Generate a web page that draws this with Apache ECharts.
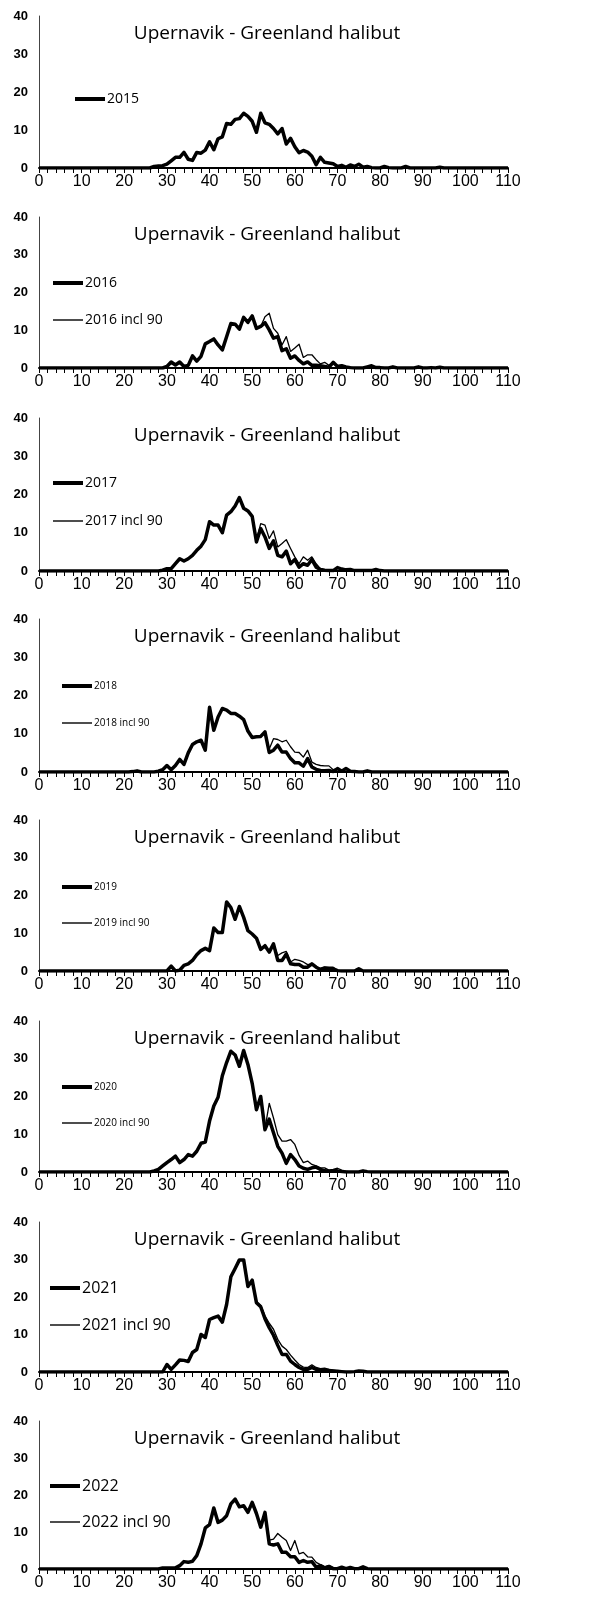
<!DOCTYPE html>
<html>
<head>
<meta charset="utf-8">
<title>Upernavik - Greenland halibut</title>
<script src="https://cdn.jsdelivr.net/npm/echarts@6/dist/echarts.min.js"></script>
<style>
  html, body { margin: 0; padding: 0; background: #fff; }
  #chart { width: 604px; height: 1604px; }
</style>
</head>
<body>
<div id="chart"></div>
<script>
// length classes (cm)
var lengths = [
  0, 1, 2, 3, 4, 5, 6, 7, 8, 9,
  10, 11, 12, 13, 14, 15, 16, 17, 18, 19,
  20, 21, 22, 23, 24, 25, 26, 27, 28, 29,
  30, 31, 32, 33, 34, 35, 36, 37, 38, 39,
  40, 41, 42, 43, 44, 45, 46, 47, 48, 49,
  50, 51, 52, 53, 54, 55, 56, 57, 58, 59,
  60, 61, 62, 63, 64, 65, 66, 67, 68, 69,
  70, 71, 72, 73, 74, 75, 76, 77, 78, 79,
  80, 81, 82, 83, 84, 85, 86, 87, 88, 89,
  90, 91, 92, 93, 94, 95, 96, 97, 98, 99,
  100, 101, 102, 103, 104, 105, 106, 107, 108, 109, 110
];

var yTicks = [0, 10, 20, 30, 40];
var xTicks = [0, 10, 20, 30, 40, 50, 60, 70, 80, 90, 100, 110];

var y2015 = [
  0, 0, 0, 0, 0, 0, 0, 0, 0, 0,
  0, 0, 0, 0, 0, 0, 0, 0, 0, 0,
  0, 0, 0, 0, 0, 0, 0, 0.4, 0.5, 0.6,
  1.0, 1.9, 2.8, 2.8, 4.1, 2.3, 2.0, 4.1, 3.9, 4.7,
  6.9, 4.8, 7.7, 8.2, 11.7, 11.5, 12.8, 13.0, 14.4, 13.6,
  12.3, 9.4, 14.4, 11.9, 11.5, 10.4, 9.0, 10.4, 6.3, 7.8,
  5.6, 4.0, 4.6, 4.2, 3.1, 0.9, 2.8, 1.5, 1.3, 1.1,
  0.4, 0.7, 0.2, 0.8, 0.4, 1.0, 0.2, 0.4, 0.1, 0,
  0, 0.4, 0.1, 0, 0, 0, 0.4, 0, 0, 0,
  0, 0, 0, 0, 0.2, 0, 0, 0, 0, 0,
  0, 0, 0, 0, 0, 0, 0, 0, 0, 0, 0
];

var y2016 = [
  0, 0, 0, 0, 0, 0, 0, 0, 0, 0,
  0, 0, 0, 0, 0, 0, 0, 0, 0, 0,
  0, 0, 0, 0, 0, 0, 0, 0, 0, 0,
  0.4, 1.6, 0.8, 1.6, 0.4, 0.7, 3.2, 1.8, 3.1, 6.4,
  7.0, 7.7, 6.1, 4.8, 8.3, 11.8, 11.6, 10.3, 13.4, 12.1,
  13.8, 10.5, 11.0, 12.0, 10.1, 7.9, 8.3, 4.6, 5.1, 2.6,
  3.2, 2.0, 1.1, 1.6, 0.7, 0.7, 0.6, 0.4, 0.2, 1.5,
  0.4, 0.6, 0.3, 0.1, 0, 0, 0, 0.3, 0.6, 0.1,
  0.1, 0, 0, 0.3, 0, 0, 0, 0, 0, 0.3,
  0, 0, 0.1, 0, 0.2, 0, 0, 0, 0, 0,
  0, 0, 0, 0, 0, 0, 0, 0, 0, 0, 0
];
var y2016incl = [
  0, 0, 0, 0, 0, 0, 0, 0, 0, 0,
  0, 0, 0, 0, 0, 0, 0, 0, 0, 0,
  0, 0, 0, 0, 0, 0, 0, 0, 0, 0,
  0.4, 1.6, 0.8, 1.6, 0.4, 0.7, 3.2, 1.8, 3.1, 6.4,
  7.0, 7.7, 6.1, 4.8, 8.3, 11.8, 11.6, 10.3, 13.4, 12.1,
  13.8, 10.5, 11.0, 13.6, 14.5, 10.5, 9.2, 6.1, 8.3, 4.4,
  5.3, 6.3, 2.8, 3.5, 3.5, 2.2, 1.1, 1.5, 0.7, 1.5,
  0.6, 0.7, 0.4, 0.2, 0, 0, 0, 0.3, 0.6, 0.1,
  0.1, 0, 0, 0.3, 0, 0, 0, 0, 0, 0.3,
  0, 0, 0.1, 0, 0.2, 0, 0, 0, 0, 0,
  0, 0, 0, 0, 0, 0, 0, 0, 0, 0, 0
];

var y2017 = [
  0, 0, 0, 0, 0, 0, 0, 0, 0, 0,
  0, 0, 0, 0, 0, 0, 0, 0, 0, 0,
  0, 0, 0, 0, 0, 0, 0, 0, 0, 0.2,
  0.6, 0.6, 1.9, 3.2, 2.6, 3.2, 4.1, 5.4, 6.5, 8.2,
  12.9, 12.0, 12.0, 10.0, 14.6, 15.5, 17.0, 19.2, 16.4, 15.7,
  14.3, 7.6, 11.1, 8.9, 5.9, 7.9, 4.1, 3.7, 5.2, 1.9,
  3.0, 1.0, 1.9, 1.5, 3.0, 1.0, 0.4, 0.2, 0.1, 0.1,
  0.9, 0.5, 0.3, 0.4, 0.1, 0.1, 0.1, 0.1, 0.1, 0.4,
  0.1, 0, 0, 0, 0, 0, 0, 0, 0, 0,
  0, 0, 0, 0, 0, 0, 0, 0, 0, 0,
  0, 0, 0, 0, 0, 0, 0, 0, 0, 0, 0
];
var y2017incl = [
  0, 0, 0, 0, 0, 0, 0, 0, 0, 0,
  0, 0, 0, 0, 0, 0, 0, 0, 0, 0,
  0, 0, 0, 0, 0, 0, 0, 0, 0, 0.2,
  0.6, 0.6, 1.9, 3.2, 2.6, 3.2, 4.1, 5.4, 6.5, 8.2,
  12.9, 12.0, 12.0, 10.0, 14.6, 15.5, 17.0, 19.2, 16.4, 15.7,
  14.3, 8.2, 12.4, 12.0, 8.5, 10.5, 6.3, 7.2, 8.2, 5.9,
  3.7, 1.9, 3.7, 2.8, 3.7, 1.9, 0.6, 0.3, 0.2, 0.1,
  0.9, 0.5, 0.3, 0.4, 0.1, 0.1, 0.1, 0.1, 0.1, 0.4,
  0.1, 0, 0, 0, 0, 0, 0, 0, 0, 0,
  0, 0, 0, 0, 0, 0, 0, 0, 0, 0,
  0, 0, 0, 0, 0, 0, 0, 0, 0, 0, 0
];

var y2018 = [
  0, 0, 0, 0, 0, 0, 0, 0, 0, 0,
  0, 0, 0, 0, 0, 0, 0, 0, 0, 0,
  0, 0, 0.1, 0.3, 0, 0, 0, 0, 0.2, 0.6,
  1.7, 0.6, 1.7, 3.3, 2.0, 5.0, 7.2, 7.9, 8.3, 5.7,
  16.9, 10.9, 14.4, 16.6, 16.2, 15.3, 15.3, 14.6, 13.7, 10.7,
  9.0, 9.2, 9.3, 10.5, 5.1, 5.7, 7.0, 5.2, 5.2, 3.5,
  2.4, 2.4, 1.5, 3.5, 1.3, 0.7, 0.4, 0.3, 0.4, 0.1,
  0.9, 0.2, 0.9, 0.2, 0.1, 0, 0, 0.3, 0, 0,
  0, 0, 0, 0, 0, 0, 0, 0, 0, 0,
  0, 0, 0, 0, 0, 0, 0, 0, 0, 0,
  0, 0, 0, 0, 0, 0, 0, 0, 0, 0, 0
];
var y2018incl = [
  0, 0, 0, 0, 0, 0, 0, 0, 0, 0,
  0, 0, 0, 0, 0, 0, 0, 0, 0, 0,
  0, 0, 0.1, 0.3, 0, 0, 0, 0, 0.2, 0.6,
  1.7, 0.6, 1.7, 3.3, 2.0, 5.0, 7.2, 7.9, 8.3, 5.7,
  16.9, 10.9, 14.4, 16.6, 16.2, 15.3, 15.3, 14.6, 13.7, 10.7,
  9.0, 9.2, 9.3, 10.5, 6.0, 8.7, 8.5, 7.9, 8.3, 6.6,
  5.2, 5.1, 3.9, 5.7, 2.6, 2.0, 1.7, 1.6, 1.6, 0.6,
  0.9, 0.3, 0.9, 0.2, 0.1, 0, 0, 0.3, 0, 0,
  0, 0, 0, 0, 0, 0, 0, 0, 0, 0,
  0, 0, 0, 0, 0, 0, 0, 0, 0, 0,
  0, 0, 0, 0, 0, 0, 0, 0, 0, 0, 0
];

var y2019 = [
  0, 0, 0, 0, 0, 0, 0, 0, 0, 0,
  0, 0, 0, 0, 0, 0, 0, 0, 0, 0,
  0, 0, 0, 0, 0, 0, 0, 0, 0, 0,
  0, 1.3, 0, 0.2, 1.5, 1.9, 2.8, 4.3, 5.4, 6.0,
  5.4, 11.4, 10.2, 10.2, 18.3, 16.8, 13.7, 17.1, 14.2, 10.7,
  9.8, 8.7, 5.7, 6.7, 5.0, 7.2, 2.8, 2.8, 4.5, 1.9,
  1.7, 1.7, 1.0, 1.0, 1.9, 1.0, 0.4, 0.8, 0.6, 0.6,
  0.1, 0, 0, 0, 0, 0.6, 0, 0, 0, 0,
  0, 0, 0, 0, 0, 0, 0, 0, 0, 0,
  0, 0, 0, 0, 0, 0, 0, 0, 0, 0,
  0, 0, 0, 0, 0, 0, 0, 0, 0, 0, 0
];
var y2019incl = [
  0, 0, 0, 0, 0, 0, 0, 0, 0, 0,
  0, 0, 0, 0, 0, 0, 0, 0, 0, 0,
  0, 0, 0, 0, 0, 0, 0, 0, 0, 0,
  0, 1.3, 0, 0.2, 1.5, 1.9, 2.8, 4.3, 5.4, 6.0,
  5.4, 11.4, 10.2, 10.2, 18.3, 16.8, 13.7, 17.1, 14.2, 10.7,
  9.8, 8.7, 5.7, 6.7, 5.0, 7.2, 4.1, 4.8, 5.2, 2.4,
  3.1, 2.8, 2.4, 1.7, 1.9, 1.0, 0.6, 1.0, 1.0, 1.0,
  0.2, 0, 0, 0, 0, 0.6, 0, 0, 0, 0,
  0, 0, 0, 0, 0, 0, 0, 0, 0, 0,
  0, 0, 0, 0, 0, 0, 0, 0, 0, 0,
  0, 0, 0, 0, 0, 0, 0, 0, 0, 0, 0
];

var y2020 = [
  0, 0, 0, 0, 0, 0, 0, 0, 0, 0,
  0, 0, 0, 0, 0, 0, 0, 0, 0, 0,
  0, 0, 0, 0, 0, 0, 0, 0.3, 0.7, 1.6,
  2.5, 3.3, 4.2, 2.5, 3.3, 4.6, 4.2, 5.5, 7.6, 7.9,
  13.5, 17.5, 19.8, 25.5, 29.0, 32.0, 31.0, 28.0, 32.2, 28.5,
  23.5, 16.5, 20.0, 11.2, 14.0, 10.4, 6.8, 5.0, 2.3, 4.6,
  3.3, 1.6, 1.0, 0.7, 1.1, 1.3, 0.7, 0.3, 0.2, 0.3,
  0.3, 0.1, 0, 0, 0, 0, 0.3, 0.1, 0, 0,
  0, 0, 0, 0, 0, 0, 0, 0, 0, 0,
  0, 0, 0, 0, 0, 0, 0, 0, 0, 0,
  0, 0, 0, 0, 0, 0, 0, 0, 0, 0, 0
];
var y2020incl = [
  0, 0, 0, 0, 0, 0, 0, 0, 0, 0,
  0, 0, 0, 0, 0, 0, 0, 0, 0, 0,
  0, 0, 0, 0, 0, 0, 0, 0.3, 0.7, 1.6,
  2.5, 3.3, 4.2, 2.5, 3.3, 4.6, 4.2, 5.5, 7.6, 7.9,
  13.5, 17.5, 19.8, 25.5, 29.0, 32.0, 31.0, 28.0, 32.2, 28.5,
  23.5, 16.5, 20.0, 11.5, 18.2, 14.3, 9.9, 8.2, 8.2, 8.6,
  7.3, 4.4, 2.5, 2.9, 2.0, 1.6, 1.1, 1.1, 0.5, 0.7,
  1.0, 0.5, 0.2, 0, 0, 0, 0.3, 0.1, 0, 0,
  0, 0, 0, 0, 0, 0, 0, 0, 0, 0,
  0, 0, 0, 0, 0, 0, 0, 0, 0, 0,
  0, 0, 0, 0, 0, 0, 0, 0, 0, 0, 0
];

var y2021 = [
  0, 0, 0, 0, 0, 0, 0, 0, 0, 0,
  0, 0, 0, 0, 0, 0, 0, 0, 0, 0,
  0, 0, 0, 0, 0, 0, 0, 0, 0, 0,
  2.0, 0.7, 1.9, 3.2, 3.1, 2.8, 5.2, 6.0, 10.0, 9.2,
  14.0, 14.5, 14.9, 13.3, 18.0, 25.4, 27.6, 29.9, 29.9, 22.8,
  24.5, 18.5, 17.4, 14.2, 11.8, 9.8, 7.1, 4.7, 4.7, 2.9,
  2.0, 1.2, 0.7, 0.7, 1.2, 0.7, 0.5, 0.5, 0.4, 0.3,
  0.2, 0.1, 0, 0, 0.1, 0.3, 0.2, 0, 0, 0,
  0, 0, 0, 0, 0, 0, 0, 0, 0, 0,
  0, 0, 0, 0, 0, 0, 0, 0, 0, 0,
  0, 0, 0, 0, 0, 0, 0, 0, 0, 0, 0
];
var y2021incl = [
  0, 0, 0, 0, 0, 0, 0, 0, 0, 0,
  0, 0, 0, 0, 0, 0, 0, 0, 0, 0,
  0, 0, 0, 0, 0, 0, 0, 0, 0, 0,
  2.0, 0.7, 1.9, 3.2, 3.1, 2.8, 5.2, 6.0, 10.0, 9.2,
  14.0, 14.5, 14.9, 13.3, 18.0, 25.4, 27.6, 29.9, 29.9, 22.8,
  24.5, 18.5, 17.8, 15.0, 13.0, 11.4, 8.7, 6.9, 6.0, 4.5,
  3.2, 2.0, 1.3, 1.2, 1.9, 1.2, 0.9, 1.0, 0.7, 0.5,
  0.3, 0.1, 0, 0, 0.1, 0.3, 0.2, 0, 0, 0,
  0, 0, 0, 0, 0, 0, 0, 0, 0, 0,
  0, 0, 0, 0, 0, 0, 0, 0, 0, 0,
  0, 0, 0, 0, 0, 0, 0, 0, 0, 0, 0
];

var y2022 = [
  0, 0, 0, 0, 0, 0, 0, 0, 0, 0,
  0, 0, 0, 0, 0, 0, 0, 0, 0, 0,
  0, 0, 0, 0, 0, 0, 0, 0, 0, 0.3,
  0.3, 0.3, 0.3, 0.9, 2.0, 1.8, 2.1, 3.6, 6.8, 11.1,
  12.0, 16.5, 12.6, 13.2, 14.4, 17.6, 18.9, 16.8, 17.1, 15.3,
  18.0, 15.0, 11.3, 15.3, 6.8, 6.5, 6.8, 4.5, 4.5, 3.3,
  3.3, 1.8, 2.3, 1.8, 2.0, 0.5, 0.9, 0.3, 0.7, 0.1,
  0.1, 0.5, 0.1, 0.4, 0.1, 0.1, 0.6, 0.1, 0, 0,
  0, 0, 0, 0, 0, 0, 0, 0, 0, 0,
  0, 0, 0, 0, 0, 0, 0, 0, 0, 0,
  0, 0, 0, 0, 0, 0, 0, 0, 0, 0, 0
];
var y2022incl = [
  0, 0, 0, 0, 0, 0, 0, 0, 0, 0,
  0, 0, 0, 0, 0, 0, 0, 0, 0, 0,
  0, 0, 0, 0, 0, 0, 0, 0, 0, 0.3,
  0.3, 0.3, 0.3, 0.9, 2.0, 1.8, 2.1, 3.6, 6.8, 11.1,
  12.0, 16.5, 12.6, 13.2, 14.4, 17.6, 18.9, 16.8, 17.1, 15.3,
  18.0, 15.0, 11.3, 15.3, 7.8, 8.1, 9.6, 8.6, 7.7, 5.0,
  7.7, 4.1, 4.5, 3.3, 3.2, 1.8, 1.2, 0.6, 0.9, 0.3,
  0.2, 0.5, 0.1, 0.4, 0.1, 0.1, 0.6, 0.1, 0, 0,
  0, 0, 0, 0, 0, 0, 0, 0, 0, 0,
  0, 0, 0, 0, 0, 0, 0, 0, 0, 0,
  0, 0, 0, 0, 0, 0, 0, 0, 0, 0, 0
];

var titleText = "Upernavik - Greenland halibut";

// one entry per panel: series names + values, then layout
var panels = [
  { names: ["2015"], values: [y2015], top: 16, height: 152, legX: 75, legY: [99], legFont: 14 },
  { names: ["2016", "2016 incl 90"], values: [y2016, y2016incl], top: 217, height: 151, legX: 53, legY: [283, 320], legFont: 14 },
  { names: ["2017", "2017 incl 90"], values: [y2017, y2017incl], top: 418, height: 153, legX: 53, legY: [483, 521], legFont: 14 },
  { names: ["2018", "2018 incl 90"], values: [y2018, y2018incl], top: 619, height: 153, legX: 62, legY: [686, 723], legFont: 10 },
  { names: ["2019", "2019 incl 90"], values: [y2019, y2019incl], top: 820, height: 151, legX: 62, legY: [887, 923], legFont: 10 },
  { names: ["2020", "2020 incl 90"], values: [y2020, y2020incl], top: 1021, height: 151, legX: 62, legY: [1087, 1123], legFont: 10 },
  { names: ["2021", "2021 incl 90"], values: [y2021, y2021incl], top: 1222, height: 150, legX: 50, legY: [1288, 1325], legFont: 16 },
  { names: ["2022", "2022 incl 90"], values: [y2022, y2022incl], top: 1421, height: 148, legX: 50, legY: [1486, 1522], legFont: 16 }
];

var textFont = "'Open Sans', 'Noto Sans', sans-serif";
var THICK = 3.5, THIN = 1.3;

function pairs(vals) {
  var out = [];
  for (var i = 0; i < lengths.length; i++) {
    out.push([lengths[i], vals[i]]);
  }
  return out;
}

var grids = [], xAxes = [], yAxes = [], titles = [], legends = [], series = [];

panels.forEach(function (p, i) {
  grids.push({ left: 39, right: 96, top: p.top, height: p.height });

  xAxes.push({
    gridIndex: i,
    type: "value",
    min: xTicks[0],
    max: xTicks[xTicks.length - 1],
    interval: 10,
    splitLine: { show: false },
    axisLine: { show: true, onZero: false, lineStyle: { color: "#000", width: 2 } },
    axisTick: { show: true, length: 5, lineStyle: { color: "#000", width: 1 } },
    minorTick: { show: true, splitNumber: 5, length: 5, lineStyle: { color: "#000", width: 1 } },
    axisLabel: {
      margin: 6,
      color: "#000",
      fontSize: 16,
      fontFamily: "'Liberation Sans', Arial, sans-serif"
    }
  });

  yAxes.push({
    gridIndex: i,
    type: "value",
    min: yTicks[0],
    max: yTicks[yTicks.length - 1],
    interval: 10,
    splitLine: { show: false },
    axisLine: { show: true, lineStyle: { color: "#444", width: 1 } },
    axisTick: { show: false },
    axisLabel: {
      margin: 11,
      color: "#000",
      fontSize: 13,
      fontWeight: "bold",
      fontFamily: "'Liberation Sans', Arial, sans-serif"
    }
  });

  titles.push({
    text: titleText,
    left: 267,
    top: p.top + 8,
    textAlign: "center",
    padding: 0,
    textStyle: {
      fontFamily: textFont,
      fontSize: 19,
      fontWeight: "normal",
      color: "#000",
      lineHeight: 20
    }
  });

  p.names.forEach(function (name, k) {
    var thick = k === 0;
    series.push({
      name: name,
      type: "line",
      xAxisIndex: i,
      yAxisIndex: i,
      data: pairs(p.values[k]),
      symbol: "none",
      showSymbol: false,
      silent: true,
      z: thick ? 2 : 3,
      itemStyle: { color: "#000" },
      lineStyle: { color: "#000", width: thick ? THICK : THIN, join: "round" }
    });
    legends.push({
      data: [{ name: name, icon: "rect" }],
      left: p.legX,
      top: p.legY[k] - 8,
      padding: 0,
      itemWidth: 30,
      itemHeight: thick ? 4 : 1.4,
      selectedMode: false,
      itemStyle: { color: "#000", borderWidth: 0 },
      lineStyle: { width: 0 },
      textStyle: {
        fontFamily: textFont,
        fontSize: p.legFont,
        lineHeight: 16,
        color: "#000",
        padding: [0, 0, 0, -3]
      }
    });
  });
});

var chart = echarts.init(document.getElementById("chart"), null, { renderer: "canvas" });
chart.setOption({
  animation: false,
  backgroundColor: "#fff",
  title: titles,
  legend: legends,
  grid: grids,
  xAxis: xAxes,
  yAxis: yAxes,
  series: series
});
</script>
</body>
</html>
